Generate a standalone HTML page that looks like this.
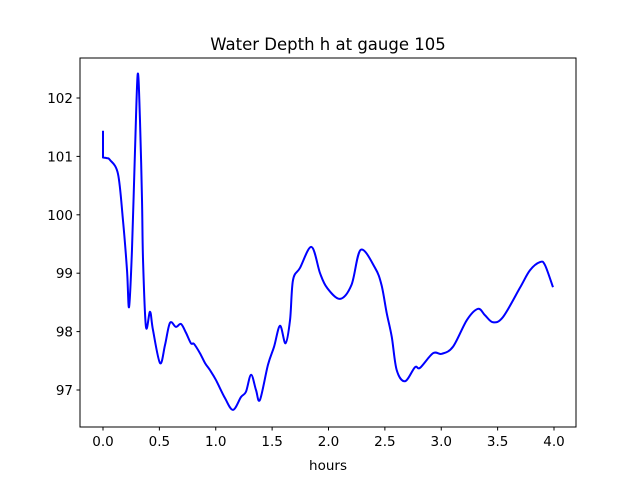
<!DOCTYPE html>
<html><head><meta charset="utf-8"><style>
body{margin:0;background:#fff}
svg{display:block;font-family:"DejaVu Sans","Liberation Sans",sans-serif}
</style></head><body>
<svg id="c" width="640" height="480" viewBox="0 0 640 480">
<rect x="0" y="0" width="640" height="480" fill="#fff"/>
<text x="328" y="50" text-anchor="middle" font-size="16.5">Water Depth h at gauge 105</text>
<g id="ax"></g>
<path id="ln" fill="none" stroke="#0000ff" stroke-width="2" stroke-linejoin="round"/>
<rect x="80" y="58" width="496" height="369" fill="none" stroke="#000" stroke-width="1"/>
<text x="328" y="470" text-anchor="middle" font-size="13.5">hours</text>
</svg>
<script>
const hours=[0,0,0.035,0.062,0.133,0.177,0.213,0.231,0.257,0.284,0.308,0.328,0.346,0.355,0.381,0.417,0.443,0.506,0.55,0.594,0.647,0.692,0.736,0.78,0.807,0.86,0.905,0.949,1.002,1.082,1.153,1.224,1.268,1.313,1.357,1.392,1.463,1.517,1.57,1.619,1.659,1.685,1.747,1.849,1.925,1.987,2.102,2.204,2.286,2.413,2.47,2.516,2.561,2.605,2.679,2.767,2.812,2.927,3.004,3.104,3.228,3.326,3.388,3.459,3.548,3.698,3.787,3.876,3.92,3.991];
const depth=[101.44,100.98,100.97,100.94,100.7,99.91,99.05,98.42,99.4,101.11,102.41,101.62,100.25,99.23,98.08,98.34,98.03,97.46,97.77,98.15,98.08,98.13,97.98,97.8,97.79,97.63,97.46,97.34,97.17,96.86,96.66,96.88,96.97,97.26,97.0,96.83,97.43,97.74,98.1,97.8,98.2,98.88,99.09,99.45,99.0,98.75,98.56,98.8,99.4,99.09,98.8,98.32,97.91,97.34,97.15,97.39,97.38,97.63,97.62,97.74,98.2,98.39,98.28,98.16,98.25,98.75,99.05,99.19,99.14,98.76];
const xTicks=[0,0.5,1,1.5,2,2.5,3,3.5,4];
const xTickLabels=["0.0","0.5","1.0","1.5","2.0","2.5","3.0","3.5","4.0"];
const yTicks=[97,98,99,100,101,102];
const yTickLabels=["97","98","99","100","101","102"];
const X=h=>103+112.75*h;
const Y=v=>390-58.4*(v-97);
const NS="http://www.w3.org/2000/svg";
const ax=document.getElementById('ax');
function mk(t,a,txt){const e=document.createElementNS(NS,t);for(const k in a)e.setAttribute(k,a[k]);if(txt!=null)e.textContent=txt;ax.appendChild(e);return e;}
xTicks.forEach((t,i)=>{
 const l=mk('line',{x1:X(t),x2:X(t),y1:427,y2:430.5,stroke:'#000'});
 
 
 const s=mk('text',{x:X(t),y:446,'text-anchor':'middle','font-size':'13.5'},xTickLabels[i]);
 
 
});
yTicks.forEach((t,i)=>{
 const l=mk('line',{x1:76.5,x2:80,y1:Y(t),y2:Y(t),stroke:'#000'});
 
 
 const s=mk('text',{x:73,y:Y(t)+5,'text-anchor':'end','font-size':'13.5'},yTickLabels[i]);
 
 
});
const P=hours.map((h,i)=>[X(h),Y(depth[i])]);
let d='M'+P[0][0]+','+P[0][1]+' L'+P[1][0]+','+P[1][1];
for(let i=1;i<P.length-1;i++){
 const p0=P[Math.max(i-1,1)],p1=P[i],p2=P[i+1],p3=P[Math.min(i+2,P.length-1)];
 const c1=[p1[0]+(p2[0]-p0[0])/6,p1[1]+(p2[1]-p0[1])/6];
 const c2=[p2[0]-(p3[0]-p1[0])/6,p2[1]-(p3[1]-p1[1])/6];
 d+=' C'+c1[0]+','+c1[1]+' '+c2[0]+','+c2[1]+' '+p2[0]+','+p2[1];
}
document.getElementById('ln').setAttribute('d',d);
</script>
</body></html>
